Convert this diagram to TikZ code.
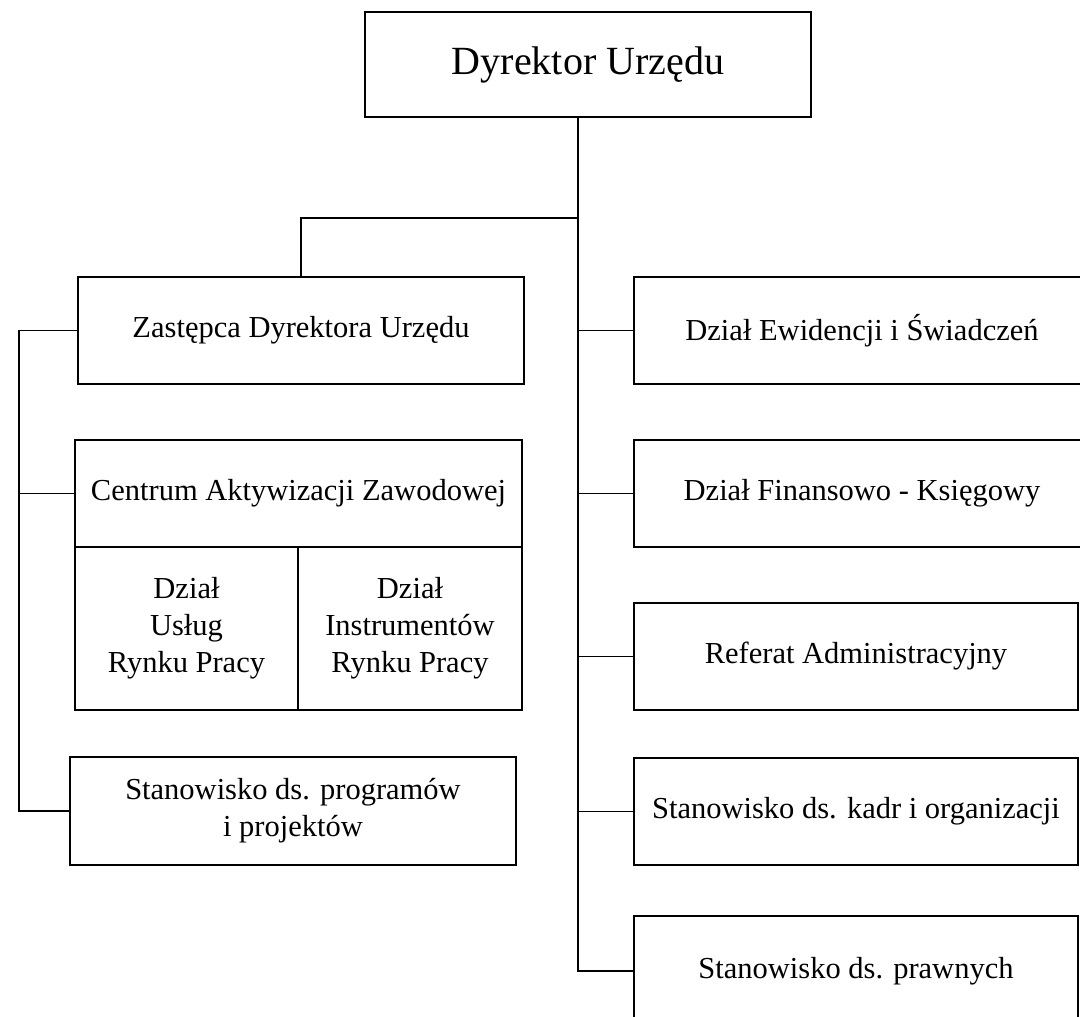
\documentclass[tikz,border=0pt]{standalone}
\usepackage{fontspec}
\setmainfont{Liberation Serif}
\begin{document}
\begin{tikzpicture}[x=1pt,y=-1pt,
  box/.style={draw, line width=2pt, inner sep=0pt, align=center, font=\fontsize{30.5}{37}\selectfont},
  conn/.style={line width=1.8pt}]
\useasboundingbox (0,0) rectangle (1080,1017);
\clip (0,0) rectangle (1080,1017);
% top
\node[box, minimum width=446pt, minimum height=105pt, font=\fontsize{40}{48}\selectfont] (dyr) at (588,64.5) {Dyrektor Urzędu};
% left column
\node[box, minimum width=446pt, minimum height=107pt] (zas) at (301,330.5) {Zastępca Dyrektora Urzędu};
\node[box, minimum width=447pt, minimum height=107pt] (cen) at (298.5,493.5) {Centrum Aktywizacji Zawodowej};
\node[box, minimum width=223pt, minimum height=163pt] (dus) at (186.5,628.5) {Dział\\Usług\\Rynku Pracy};
\node[box, minimum width=224pt, minimum height=163pt] (din) at (410,628.5) {Dział\\Instrumentów\\Rynku Pracy};
\node[box, minimum width=446pt, minimum height=108pt] (prog) at (293,811) {Stanowisko ds. programów\\i projektów};
% right column
\node[box, minimum width=456pt, minimum height=107pt] (ewi) at (862,330.5) {Dział Ewidencji i Świadczeń};
\node[box, minimum width=456pt, minimum height=107pt] (fin) at (862,493.5) {Dział Finansowo - Księgowy};
\node[box, minimum width=444pt, minimum height=107pt] (ref) at (856,656.5) {Referat Administracyjny};
\node[box, minimum width=444pt, minimum height=107pt] (kad) at (856,811.5) {Stanowisko ds. kadr i organizacji};
\node[box, minimum width=444pt, minimum height=110pt] (pra) at (856,971) {Stanowisko ds. prawnych};
% connectors
\coordinate (tr) at (578,0);
\coordinate (lt) at (19,0);
\coordinate (br) at (0,218);
\draw[conn] (dyr.south -| tr) -- (tr |- pra.west) -- (pra.west);
\draw[conn] (tr |- br) -- (zas.north |- br) -- (zas.north);
\draw[conn] (tr |- ewi.west) -- (ewi.west);
\draw[conn] (tr |- fin.west) -- (fin.west);
\draw[conn] (tr |- ref.west) -- (ref.west);
\draw[conn] (tr |- kad.west) -- (kad.west);
\draw[conn] (zas.west) -- (zas.west -| lt) -- (lt |- prog.west) -- (prog.west);
\draw[conn] (lt |- cen.west) -- (cen.west);
\end{tikzpicture}
\end{document}
